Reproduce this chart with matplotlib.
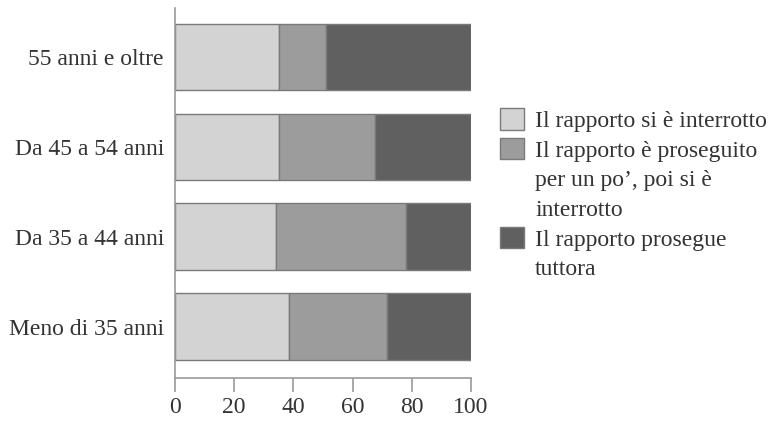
import matplotlib.pyplot as plt
from matplotlib.patches import Patch

plt.rcParams['font.family'] = ['Liberation Serif', 'DejaVu Serif']

# categories from bottom to top
categories = ["Meno di 35 anni", "Da 35 a 44 anni", "Da 45 a 54 anni", "55 anni e oltre"]
interrotto = [38.5, 34, 35, 35]
proseguito_poi = [33, 44, 32.5, 16]
prosegue = [28.5, 22, 32.5, 49]

series_labels = ["Il rapporto si è interrotto",
                 "Il rapporto è proseguito\nper un po’, poi si è\ninterrotto",
                 "Il rapporto prosegue\ntuttora"]
colors = ["#d3d3d3", "#9c9c9c", "#606060"]
x_ticks = [0, 20, 40, 60, 80, 100]

fig = plt.figure(figsize=(7.8, 4.21), dpi=100)
ax = fig.add_axes([0.2244, 0.1021, 0.3794, 0.879])

pos = range(len(categories))
left = [0] * len(categories)
for vals, c in zip([interrotto, proseguito_poi, prosegue], colors):
    ax.barh(pos, vals, left=left, height=0.74, color=c, edgecolor="#7a7a7a", linewidth=1)
    left = [l + v for l, v in zip(left, vals)]

ax.set_xlim(0, 100)
ax.set_ylim(-0.573, 3.546)
ax.set_yticks(list(pos))
ax.set_yticklabels(categories, fontsize=17, color="#333333")
ax.tick_params(axis="y", length=0, pad=8)
ax.set_xticks(x_ticks)
ax.tick_params(axis="x", length=10, width=1.2, color="#999999", labelsize=17,
               labelcolor="#333333", pad=4)
for s in ["top", "right"]:
    ax.spines[s].set_visible(False)
for s in ["left", "bottom"]:
    ax.spines[s].set_color("#999999")
    ax.spines[s].set_linewidth(1.2)

# legend: continuation lines as entries without visible handles
handles, labels = [], []
for lab, c in zip(series_labels, colors):
    lines = lab.split("\n")
    handles.append(Patch(facecolor=c, edgecolor="#7a7a7a"))
    labels.append(lines[0])
    for extra in lines[1:]:
        handles.append(Patch(facecolor="none", edgecolor="none"))
        labels.append(extra)

fig.legend(handles, labels, loc="upper left", bbox_to_anchor=(0.641, 0.743),
           bbox_transform=fig.transFigure, frameon=False, fontsize=17,
           handlelength=1.02, handleheight=1.02, handletextpad=0.47,
           labelspacing=0.25, borderpad=0, borderaxespad=0, labelcolor="#333333")

fig.savefig("out.png", dpi=100)
